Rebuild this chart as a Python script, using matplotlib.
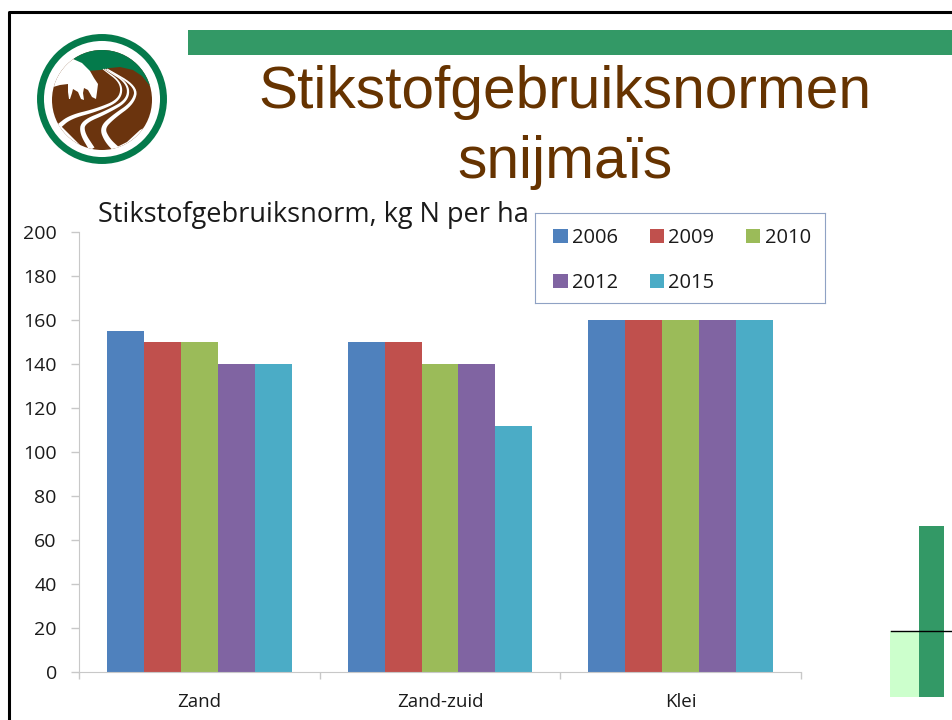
import matplotlib
matplotlib.use('Agg')
import matplotlib.pyplot as plt
import numpy as np
from matplotlib.patches import Circle, Polygon, Rectangle

categories = ['Zand', 'Zand-zuid', 'Klei']
years = ['2006', '2009', '2010', '2012', '2015']
values_2006 = [155, 150, 160]
values_2009 = [150, 150, 160]
values_2010 = [150, 140, 160]
values_2012 = [140, 140, 160]
values_2015 = [140, 112, 160]
y_ticks = [0, 20, 40, 60, 80, 100, 120, 140, 160, 180, 200]
colors = ['#4f81bd', '#c0504d', '#9bbb59', '#8064a2', '#4bacc6']

W, H = 952, 720
GREEN = '#339966'
LOGO_GREEN = '#047a4b'
BROWN = '#6b340e'
TEXT = '#1a1a1a'
CHART_FONT = ['Open Sans', 'DejaVu Sans']

fig = plt.figure(figsize=(W / 100, H / 100), dpi=100, facecolor='white')

# slide decoration, in pixel coordinates
bg = fig.add_axes([0, 0, 1, 1])
bg.set_xlim(0, W)
bg.set_ylim(H, 0)
bg.axis('off')

bg.plot([9, 9, W], [H, 12, 12], color='black', lw=2.2, solid_capstyle='butt')
bg.add_patch(Rectangle((188, 30), W - 188, 25, color=GREEN, lw=0))
bg.add_patch(Rectangle((890, 631), 29, 66, color='#ccffcc', lw=0))
bg.add_patch(Rectangle((919, 526), 25, 171, color=GREEN, lw=0))
bg.plot([891, W], [631, 631], color='black', lw=1)

# logo
bg.add_patch(Circle((102, 99), 61.5, facecolor='white', edgecolor=LOGO_GREEN, lw=5))
disk = Circle((102, 100), 50, transform=bg.transData)


def clipped(points, color):
    patch = Polygon(points, facecolor=color, lw=0)
    bg.add_patch(patch)
    patch.set_clip_path(disk)


def smooth(points, rounds=3):
    # corner cutting, keeps the end points
    pts = np.array(points, dtype=float)
    for _ in range(rounds):
        q = pts[:-1] * 0.75 + pts[1:] * 0.25
        r = pts[:-1] * 0.25 + pts[1:] * 0.75
        mid = np.empty((len(q) * 2, 2))
        mid[0::2] = q
        mid[1::2] = r
        pts = np.vstack([pts[0], mid, pts[-1]])
    return pts


def river(points, w0, w1):
    pts = smooth(points)
    d = np.gradient(pts, axis=0)
    n = np.column_stack([-d[:, 1], d[:, 0]]) / np.hypot(d[:, 0], d[:, 1])[:, None]
    w = np.linspace(w0, w1, len(pts))[:, None] / 2
    clipped(np.vstack([pts + n * w, (pts - n * w)[::-1]]), 'white')


clipped([(45, 40), (160, 40), (160, 155), (45, 155)], BROWN)
clipped([(73, 59), (80, 40), (160, 40), (160, 90), (150, 86), (142, 76), (133, 70), (120, 67),
         (110, 68), (100, 70), (88, 71), (82, 64)], LOGO_GREEN)
# cow
clipped([(45, 40), (73, 40), (73, 59), (82, 63), (90, 71), (94, 78), (98, 84), (97, 92), (96, 99),
         (92, 97), (88, 90), (84, 88), (83, 93), (84, 100), (81, 99), (78, 92), (73, 89), (72, 93),
         (70, 99), (69, 99), (68, 92), (68, 84), (60, 85), (53, 87), (45, 88)], 'white')
river([(103, 69), (122, 83), (120, 100), (97, 110), (70, 117), (58, 127)], 0.8, 5)
river([(105, 69), (128, 83), (128, 100), (107, 112), (83, 122), (82, 133), (92, 149)], 0.8, 6)
river([(107, 69), (137, 87), (133, 103), (113, 117), (102, 128), (107, 140), (117, 150)], 1, 7)
clipped([(45, 122), (60, 125), (68, 133), (82, 147), (90, 155), (45, 155)], 'white')
clipped([(115, 148), (127, 142), (140, 130), (160, 120), (160, 155), (115, 155)], 'white')

# slide title
title_kw = dict(ha='center', va='center', fontsize=42.2, color='#663300', family='Liberation Sans')
bg.text(565, 93, 'Stikstofgebruiksnormen', **title_kw)
bg.text(565, 163, 'snijmaïs', **title_kw)

# chart
ax = fig.add_axes([79 / W, (H - 672) / H, 722 / W, 440 / H], facecolor='none')
series = [values_2006, values_2009, values_2010, values_2012, values_2015]
x = np.arange(len(categories))
bar_w = 0.1537
handles = []
for i, vals in enumerate(series):
    b = ax.bar(x + (i - 2) * bar_w, vals, bar_w, color=colors[i], label=years[i], lw=0)
    handles.append(b)

ax.set_xlim(-0.5, 2.5)
ax.set_ylim(0, 200)
ax.set_yticks(y_ticks)
ax.set_xticks([-0.5, 0.5, 1.5, 2.5])
ax.set_xticklabels([])
ax.set_xticks(x, categories, minor=True)
ax.tick_params(axis='x', which='minor', length=0, pad=15, labelsize=13.5, labelcolor=TEXT)
ax.tick_params(axis='x', which='major', length=5, color='#c8c8c8', width=1)
ax.tick_params(axis='y', length=6, color='#c8c8c8', width=1, pad=10, labelsize=14, labelcolor=TEXT)
for lab in ax.get_xticklabels(minor=True) + ax.get_yticklabels():
    lab.set_fontfamily(CHART_FONT)
for s in ['top', 'right']:
    ax.spines[s].set_visible(False)
for s in ['left', 'bottom']:
    ax.spines[s].set_color('#c8c8c8')

bg.text(98, 215, 'Stikstofgebruiksnorm, kg N per ha', ha='left', va='center', fontsize=19.5,
        color=TEXT, family=CHART_FONT)

# legend fills column by column
order = [0, 3, 1, 4, 2]
leg_ax = fig.add_axes([535 / W, (H - 303) / H, 290 / W, 90 / H])
leg_ax.set_xticks([])
leg_ax.set_yticks([])
for s in leg_ax.spines.values():
    s.set_color('#8fa2c4')
leg_ax.legend([handles[i] for i in order], [years[i] for i in order], ncol=3, loc='center',
              bbox_to_anchor=(0.507, 0.472), frameon=False, handlelength=0.7, handleheight=0.7,
              handletextpad=0.2, columnspacing=1.6, labelspacing=1.2, borderaxespad=0,
              prop={'family': CHART_FONT, 'size': 14.5}, labelcolor=TEXT)

fig.savefig('out.png', dpi=100)
